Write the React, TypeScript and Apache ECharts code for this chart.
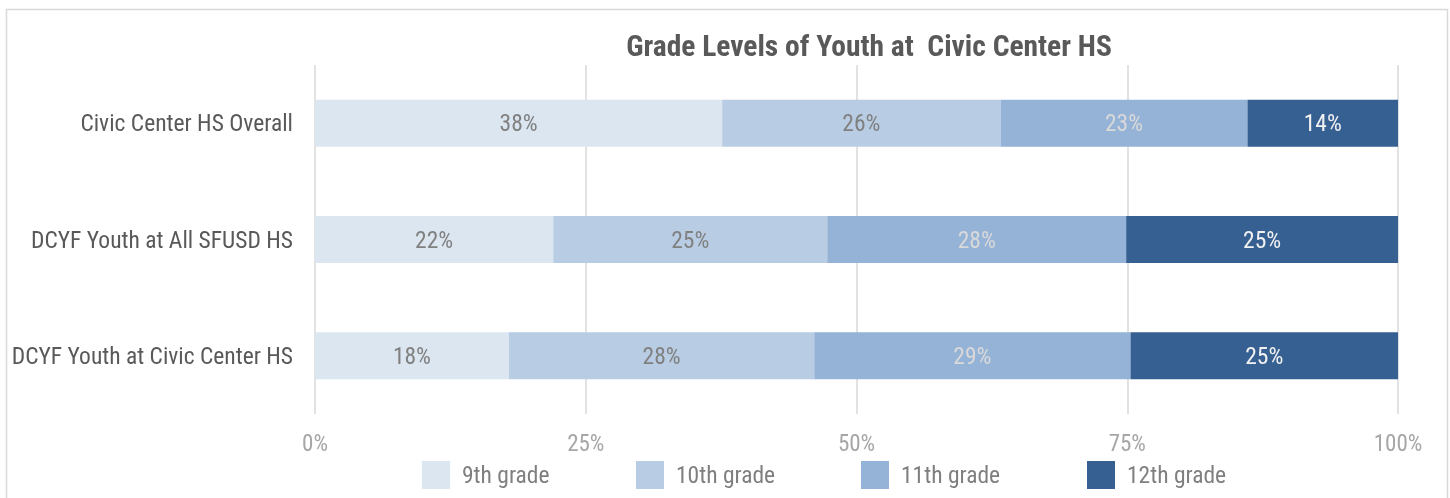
import React, { useEffect, useRef } from "react";
import * as echarts from "echarts";

const categories = [
  "Civic Center HS Overall",
  "DCYF Youth at All SFUSD HS",
  "DCYF Youth at Civic Center HS",
];
const seriesNames = ["9th grade", "10th grade", "11th grade", "12th grade"];
const grade9 = [37.6, 22.0, 17.9];
const grade10 = [25.7, 25.3, 28.2];
const grade11 = [22.8, 27.6, 29.2];
const grade12 = [13.9, 25.1, 24.7];
const xTicks = [0, 25, 50, 75, 100];

const colors = ["#dce6f1", "#b8cce4", "#95b3d7", "#366092"];
const labelColors = ["#808080", "#808080", "#d9d9d9", "#f2f2f2"];
const legendLefts = [422, 636, 861, 1087];
const FONT = "'Roboto Condensed', 'Liberation Sans Narrow', sans-serif";

export default function App() {
  const ref = useRef<HTMLDivElement>(null);
  useEffect(() => {
    if (!ref.current) return;
    const chart = echarts.init(ref.current, undefined, { renderer: "svg" });
    const data = [grade9, grade10, grade11, grade12];
    chart.setOption({
      animation: false,
      textStyle: { fontFamily: FONT },
      title: {
        text: "Grade Levels of Youth at  Civic Center HS",
        left: 864,
        top: 26,
        textAlign: "center",
        textStyle: {
          fontFamily: FONT,
          fontWeight: "bold",
          fontSize: 29.5,
          color: "#595959",
        },
      },
      graphic: [
        {
          type: "rect",
          shape: { x: 6.5, y: 9.5, width: 1441, height: 520 },
          style: { fill: "none", stroke: "#d9d9d9", lineWidth: 1.5 },
          silent: true,
        },
      ],
      legend: seriesNames.map((name, i) => ({
        left: legendLefts[i],
        top: 461,
        padding: 0,
        itemWidth: 28,
        itemHeight: 28,
        icon: "rect",
        data: [name],
        textStyle: {
          fontFamily: FONT,
          fontSize: 23.5,
          color: "#7f7f7f",
          padding: [0, 0, 0, 7],
        },
      })),
      grid: {
        left: 315,
        right: 52,
        top: 65,
        bottom: 84,
        outerBoundsMode: "none",
        containLabel: false,
      },
      xAxis: {
        type: "value",
        min: xTicks[0],
        max: xTicks[xTicks.length - 1],
        interval: 25,
        axisLine: { show: false },
        axisTick: { show: false },
        splitLine: { lineStyle: { color: "#d9d9d9", width: 1.5 } },
        axisLabel: {
          formatter: "{value}%",
          color: "#a6a6a6",
          fontSize: 23,
          fontFamily: FONT,
          margin: 18,
        },
      },
      yAxis: {
        type: "category",
        inverse: true,
        data: categories,
        axisLine: { show: false },
        axisTick: { show: false },
        axisLabel: {
          color: "#595959",
          fontSize: 23.5,
          fontFamily: FONT,
          margin: 22,
        },
      },
      series: seriesNames.map((name, i) => ({
        name,
        type: "bar",
        stack: "total",
        barWidth: 47,
        data: data[i],
        itemStyle: { color: colors[i] },
        label: {
          show: true,
          position: "inside",
          formatter: (p: any) => Math.round(p.value) + "%",
          color: labelColors[i],
          fontSize: 23.5,
          fontFamily: FONT,
        },
      })),
    });
    return () => chart.dispose();
  }, []);
  return (
    <div
      ref={ref}
      style={{ position: "fixed", left: 0, top: 0, width: 1450, height: 498 }}
    />
  );
}
